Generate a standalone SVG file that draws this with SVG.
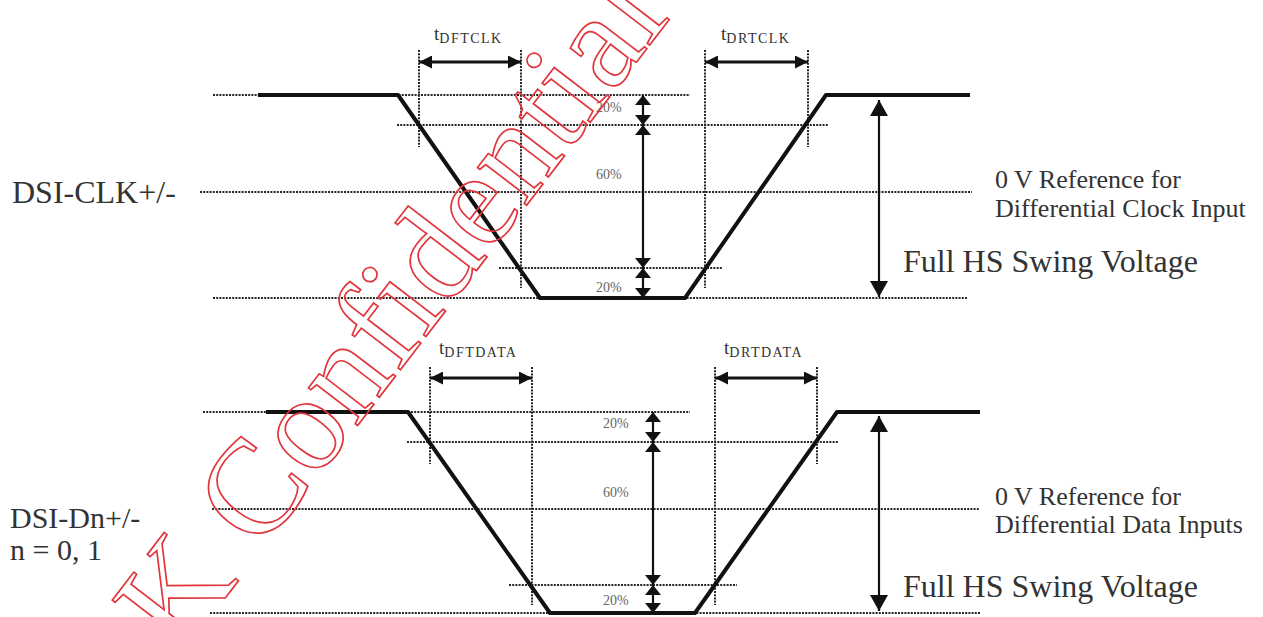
<svg xmlns="http://www.w3.org/2000/svg" width="1263" height="617" viewBox="0 0 1263 617">
<style>
  .bg{fill:#ffffff}
  .wave{fill:none;stroke:#111;stroke-width:4;stroke-linejoin:round}
  .dot{fill:none;stroke:#262626;stroke-width:2;stroke-dasharray:2 1.2}
  .tarr{stroke:#111;stroke-width:3;marker-start:url(#mt);marker-end:url(#mt)}
  .parr{stroke:#111;stroke-width:2.2;marker-start:url(#mp);marker-end:url(#mp)}
  .barr{stroke:#111;stroke-width:2.2;marker-start:url(#mb);marker-end:url(#mb)}
  .lbl{font-family:"Liberation Serif","Times New Roman",serif;fill:#333}
  .big{font-size:32px}
  .sig{font-size:30px}
  .ref{font-size:26px}
  .pct{font-family:"Liberation Serif","Times New Roman",serif;font-size:14px;fill:#666}
  .tl{font-family:"Liberation Serif","Times New Roman",serif;font-size:19px;fill:#333}
  .sub{font-size:14px;letter-spacing:1.5px}
  .wm{font-family:"Liberation Serif","Times New Roman",serif;font-size:135px;fill:none;stroke:#e0363c;stroke-width:1.7}
</style>
<defs>
  <marker id="mt" viewBox="0 0 10 10" refX="10" refY="5" markerWidth="13" markerHeight="13" markerUnits="userSpaceOnUse" orient="auto-start-reverse">
    <path d="M0,0 L10,5 L0,10 z" fill="#111"/>
  </marker>
  <marker id="mp" viewBox="0 0 10 16" refX="10" refY="8" markerWidth="10" markerHeight="16" markerUnits="userSpaceOnUse" orient="auto-start-reverse">
    <path d="M0,0 L10,8 L0,16 z" fill="#111"/>
  </marker>
  <marker id="mb" viewBox="0 0 16 18" refX="16" refY="9" markerWidth="16" markerHeight="18" markerUnits="userSpaceOnUse" orient="auto-start-reverse">
    <path d="M0,0 L16,9 L0,18 z" fill="#111"/>
  </marker>
</defs>
<rect class="bg" x="0" y="0" width="1263" height="617"/>

<g id="clk-grid">
  <line class="dot" x1="213" y1="95" x2="690" y2="95"/>
  <line class="dot" x1="397" y1="125" x2="828" y2="125"/>
  <line class="dot" x1="200" y1="192" x2="972" y2="192"/>
  <line class="dot" x1="499" y1="268" x2="722" y2="268"/>
  <line class="dot" x1="213" y1="298" x2="968" y2="298"/>
  <line class="dot" x1="419" y1="50" x2="419" y2="147"/>
  <line class="dot" x1="521" y1="50" x2="521" y2="288"/>
  <line class="dot" x1="705" y1="50" x2="705" y2="288"/>
  <line class="dot" x1="808" y1="50" x2="808" y2="147"/>
</g>
<g id="data-grid">
  <line class="dot" x1="203" y1="412" x2="690" y2="412"/>
  <line class="dot" x1="407" y1="442" x2="838" y2="442"/>
  <line class="dot" x1="212" y1="509" x2="980" y2="509"/>
  <line class="dot" x1="509" y1="585" x2="737" y2="585"/>
  <line class="dot" x1="210" y1="613" x2="980" y2="613"/>
  <line class="dot" x1="430" y1="367" x2="430" y2="464"/>
  <line class="dot" x1="532" y1="367" x2="532" y2="605"/>
  <line class="dot" x1="715" y1="367" x2="715" y2="605"/>
  <line class="dot" x1="817" y1="367" x2="817" y2="464"/>
</g>

<g id="clk-wave">
  <polyline class="wave" points="258,95 398,95 540,298 685,298 826,95 970,95"/>
</g>
<g id="data-wave">
  <polyline class="wave" points="266,412 408,412 550,613 695,613 837,412 980,412"/>
</g>

<g id="connectors">
  <line class="tarr" x1="419" y1="62" x2="521" y2="62"/>
  <line class="tarr" x1="705" y1="62" x2="808" y2="62"/>
  <line class="tarr" x1="430" y1="378" x2="532" y2="378"/>
  <line class="tarr" x1="715" y1="378" x2="817" y2="378"/>

  <line class="parr" x1="643" y1="95" x2="643" y2="125"/>
  <line class="parr" x1="643" y1="125" x2="643" y2="268"/>
  <line class="parr" x1="643" y1="268" x2="643" y2="298"/>
  <line class="parr" x1="653" y1="412" x2="653" y2="442"/>
  <line class="parr" x1="653" y1="442" x2="653" y2="585"/>
  <line class="parr" x1="653" y1="585" x2="653" y2="613"/>

  <line class="barr" x1="879" y1="100" x2="879" y2="297"/>
  <line class="barr" x1="879" y1="416" x2="879" y2="611"/>
</g>

<g id="clk-labels">
  <text class="tl" x="434" y="40">t<tspan class="sub" dy="3">DFTCLK</tspan></text>
  <text class="tl" x="721" y="40">t<tspan class="sub" dy="3">DRTCLK</tspan></text>
  <text class="pct" x="596" y="112">20%</text>
  <text class="pct" x="596" y="179">60%</text>
  <text class="pct" x="596" y="292">20%</text>
  <text class="lbl big" x="12" y="203">DSI-CLK+/-</text>
  <text class="lbl ref" x="995" y="188">0 V Reference for</text>
  <text class="lbl ref" x="995" y="217">Differential Clock Input</text>
  <text class="lbl big" x="903" y="272">Full HS Swing Voltage</text>
</g>
<g id="data-labels">
  <text class="tl" x="439" y="354">t<tspan class="sub" dy="3">DFTDATA</tspan></text>
  <text class="tl" x="724" y="354">t<tspan class="sub" dy="3">DRTDATA</tspan></text>
  <text class="pct" x="603" y="428">20%</text>
  <text class="pct" x="603" y="497">60%</text>
  <text class="pct" x="603" y="605">20%</text>
  <text class="lbl sig" x="10" y="528">DSI-Dn+/-</text>
  <text class="lbl sig" x="10" y="560">n = 0, 1</text>
  <text class="lbl ref" x="995" y="505">0 V Reference for</text>
  <text class="lbl ref" x="995" y="533">Differential Data Inputs</text>
  <text class="lbl big" x="903" y="597">Full HS Swing Voltage</text>
</g>

<g id="watermark">
  <text class="wm" transform="translate(180,657) rotate(-52.5)">K Confidential</text>
</g>
</svg>
